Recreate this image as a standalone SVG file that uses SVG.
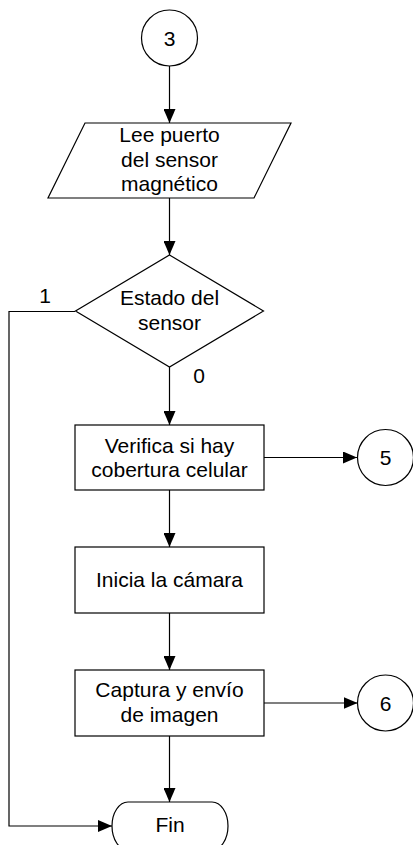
<svg xmlns="http://www.w3.org/2000/svg" width="413" height="845" viewBox="0 0 413 845">
<defs>
<marker id="ah" viewBox="0 0 14 12" refX="14" refY="6" markerWidth="14" markerHeight="12" markerUnits="userSpaceOnUse" orient="auto">
<path d="M0,0 L14,6 L0,12 Z" fill="#000"/>
</marker>
<style>
.s{fill:#fff;stroke:#000;stroke-width:1.2}
.c{fill:none;stroke:#000;stroke-width:1.2}
text{font-family:"Liberation Sans",Arial,sans-serif;font-size:21px;fill:#000;text-anchor:middle}
</style>
</defs>
<rect width="413" height="845" fill="#fff"/>
<g id="connectors">
<line class="c" x1="169.5" y1="66" x2="169.5" y2="123" marker-end="url(#ah)"/>
<line class="c" x1="169.5" y1="198" x2="169.5" y2="255" marker-end="url(#ah)"/>
<line class="c" x1="169.5" y1="367" x2="169.5" y2="425" marker-end="url(#ah)"/>
<line class="c" x1="169.5" y1="490" x2="169.5" y2="547" marker-end="url(#ah)"/>
<line class="c" x1="169.5" y1="613" x2="169.5" y2="670" marker-end="url(#ah)"/>
<line class="c" x1="169.5" y1="736" x2="169.5" y2="802" marker-end="url(#ah)"/>
<line class="c" x1="264" y1="457.5" x2="357" y2="457.5" marker-end="url(#ah)"/>
<line class="c" x1="264" y1="703" x2="357.5" y2="703" marker-end="url(#ah)"/>
<polyline class="c" points="75,311.5 9,311.5 9,826 112,826" marker-end="url(#ah)"/>
<text x="45" y="303">1</text>
<text x="199" y="383">0</text>
</g>
<g id="n3">
<circle class="s" cx="169.5" cy="38" r="28"/>
<text x="169.5" y="45.5">3</text>
</g>
<g id="lee">
<polygon class="s" points="85,123 291,123 254,198 48,198"/>
<text x="169.5" y="142">Lee puerto</text>
<text x="169.5" y="166.5">del sensor</text>
<text x="169.5" y="191">magnético</text>
</g>
<g id="estado">
<polygon class="s" points="169.5,255 263.5,311 169.5,367 75.5,311"/>
<text x="169.5" y="305">Estado del</text>
<text x="169.5" y="329.5">sensor</text>
</g>
<g id="verifica">
<rect class="s" x="75" y="425" width="189" height="65"/>
<text x="169.5" y="452.5">Verifica si hay</text>
<text x="169.5" y="477">cobertura celular</text>
</g>
<g id="n5">
<circle class="s" cx="385.5" cy="457.5" r="28"/>
<text x="385.5" y="465">5</text>
</g>
<g id="inicia">
<rect class="s" x="75" y="547" width="189" height="66"/>
<text x="169.5" y="587">Inicia la cámara</text>
</g>
<g id="captura">
<rect class="s" x="75" y="670" width="189" height="66"/>
<text x="169.5" y="697">Captura y envío</text>
<text x="169.5" y="721.5">de imagen</text>
</g>
<g id="n6">
<circle class="s" cx="385.5" cy="703" r="28"/>
<text x="385.5" y="710.5">6</text>
</g>
<g id="fin">
<rect class="s" x="112" y="802" width="116" height="48" rx="16" ry="24"/>
<text x="170" y="832">Fin</text>
</g>
</svg>
